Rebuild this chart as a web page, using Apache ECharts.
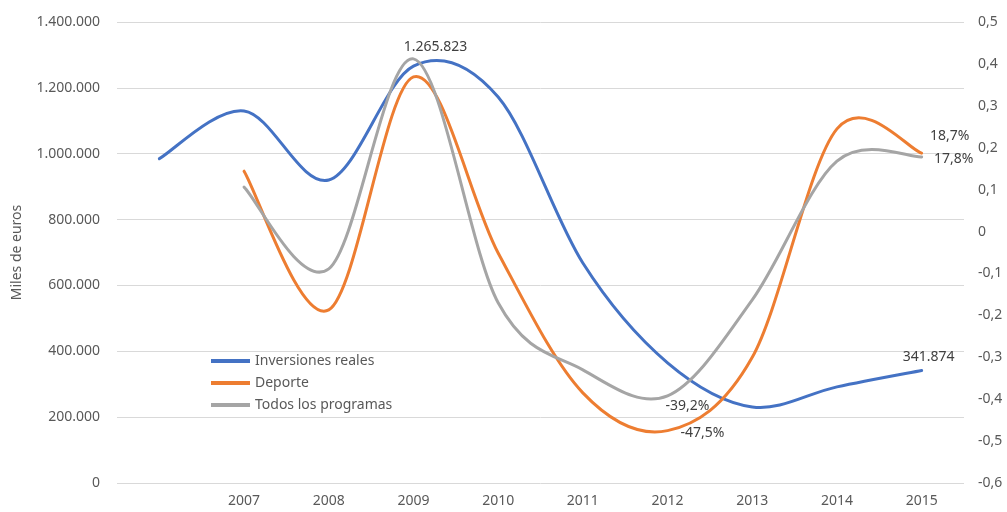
<!DOCTYPE html>
<html style="height: 100%">
<head>
  <meta charset="utf-8">
  <title>Inversiones reales y deporte</title>
</head>
<body style="height: 100%; margin: 0; background: #fff">
<div id="container" style="width: 1007px; height: 512px"></div>
<script src="https://cdn.jsdelivr.net/npm/echarts@6/dist/echarts.min.js"></script>
<script>
  var years = ['2006', '2007', '2008', '2009', '2010', '2011', '2012', '2013', '2014', '2015'];
  // miles de euros (eje izquierdo)
  var inversiones = [985000, 1130000, 920000, 1265823, 1172000, 668000, 365000, 231000, 292000, 341874];
  // variacion anual (eje derecho)
  var deporte = [null, 0.144, -0.187, 0.369, -0.051, -0.385, -0.475, -0.30, 0.245, 0.187];
  var todos = [null, 0.106, -0.089, 0.412, -0.17, -0.33, -0.392, -0.163, 0.168, 0.178];

  var textColor = '#595959';
  var font = 'Noto Sans';

  function miles(v) {
    return String(Math.round(v)).replace(/\B(?=(\d{3})+(?!\d))/g, '.');
  }
  function pct(v) {
    return (v * 100).toFixed(1).replace('.', ',') + '%';
  }

  // linea suavizada tipo Excel (Catmull-Rom) con los puntos del eje
  function curva(name, color, values, yIndex, labels, fmt) {
    var pts = [];
    values.forEach(function (v, i) { if (v !== null) pts.push([i, v]); });
    return {
      name: name,
      type: 'custom',
      yAxisIndex: yIndex,
      color: color,
      silent: true,
      data: pts,
      renderItem: function (params, api) {
        if (params.dataIndex !== 0) return null;
        var p = pts.map(function (d) { return api.coord(d); });
        var d = 'M' + p[0][0] + ',' + p[0][1];
        for (var i = 0; i < p.length - 1; i++) {
          var p0 = p[i - 1] || p[i], p1 = p[i], p2 = p[i + 1], p3 = p[i + 2] || p[i + 1];
          var c1x = p1[0] + (p2[0] - p0[0]) / 6, c1y = p1[1] + (p2[1] - p0[1]) / 6;
          var c2x = p2[0] - (p3[0] - p1[0]) / 6, c2y = p2[1] - (p3[1] - p1[1]) / 6;
          d += 'C' + c1x + ',' + c1y + ' ' + c2x + ',' + c2y + ' ' + p2[0] + ',' + p2[1];
        }
        var children = [{
          type: 'path',
          shape: { pathData: d },
          style: { fill: 'none', stroke: color, lineWidth: 3, lineCap: 'round', lineJoin: 'round' }
        }];
        pts.forEach(function (pt, k) {
          var l = labels[pt[0]];
          if (!l) return;
          children.push({
            type: 'text',
            x: p[k][0] + l[0],
            y: p[k][1] + l[1],
            style: {
              text: fmt(pt[1]),
              fill: '#404040',
              fontFamily: font,
              fontSize: 14,
              align: 'center',
              verticalAlign: 'middle'
            }
          });
        });
        return { type: 'group', children: children };
      }
    };
  }

  var dom = document.getElementById('container');
  var myChart = echarts.init(dom);
  var option = {
    animation: false,
    grid: { left: 117, right: 43, top: 22, bottom: 29 },
    legend: {
      orient: 'vertical',
      left: 206,
      top: 349,
      icon: 'rect',
      itemWidth: 39,
      itemHeight: 4,
      itemGap: 8,
      textStyle: { color: textColor, fontFamily: font, fontSize: 14 },
      data: ['Inversiones reales', 'Deporte', 'Todos los programas']
    },
    xAxis: {
      type: 'category',
      data: years,
      boundaryGap: true,
      axisLine: { show: false },
      axisTick: { show: false },
      axisLabel: {
        color: textColor, fontFamily: font, fontSize: 14, margin: 11,
        formatter: function (v, i) { return i === 0 ? '' : v; }
      }
    },
    yAxis: [
      {
        type: 'value',
        min: 0, max: 1400000, interval: 200000,
        name: 'Miles de euros',
        nameLocation: 'middle',
        nameGap: 93,
        nameTextStyle: { color: textColor, fontFamily: font, fontSize: 14 },
        axisLine: { show: false },
        axisTick: { show: false },
        splitLine: { lineStyle: { color: '#d9d9d9', width: 1 } },
        axisLabel: { color: textColor, fontFamily: font, fontSize: 14, margin: 17, formatter: miles }
      },
      {
        type: 'value',
        min: -0.6, max: 0.5, interval: 0.1,
        axisLine: { show: false },
        axisTick: { show: false },
        splitLine: { show: false },
        axisLabel: {
          color: textColor, fontFamily: font, fontSize: 14, margin: 14,
          formatter: function (v) {
            var r = Math.round(v * 10) / 10;
            return r === 0 ? '0' : r.toFixed(1).replace('.', ',');
          }
        }
      }
    ],
    series: [
      curva('Inversiones reales', '#4472C4', inversiones, 0, { 3: [22, -19], 9: [7, -13] }, miles),
      curva('Deporte', '#ED7D31', deporte, 1, { 6: [35, 2], 9: [28, -17] }, pct),
      curva('Todos los programas', '#A5A5A5', todos, 1, { 6: [20, 10], 9: [32, 2] }, pct)
    ]
  };
  myChart.setOption(option);
</script>
</body>
</html>
